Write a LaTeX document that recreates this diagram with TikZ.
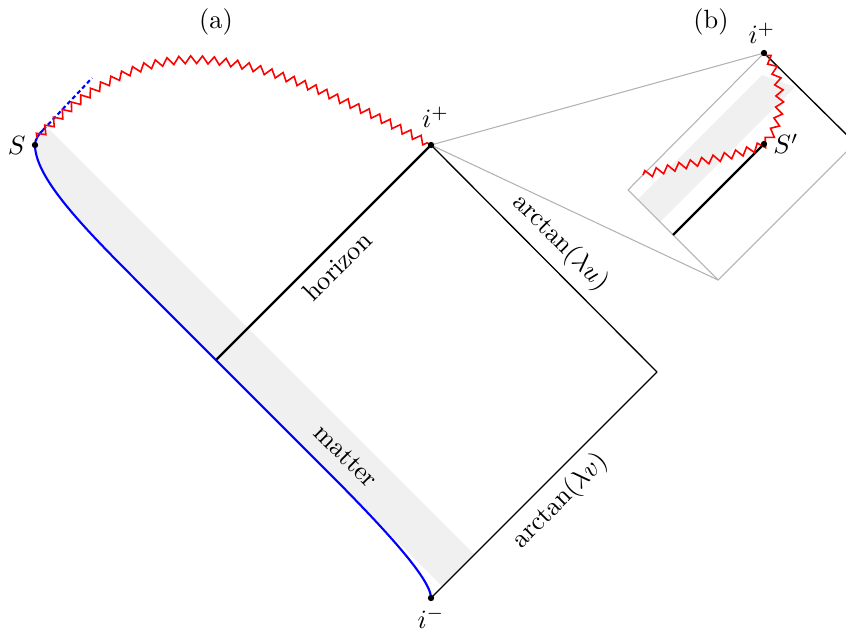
\documentclass[tikz,border=0pt]{standalone}
\usetikzlibrary{decorations.pathmorphing}

\begin{document}
\begin{tikzpicture}[
  x=0.0133cm, y=-0.0133cm,
  edge/.style={line width=0.5pt},
  hor/.style={line width=0.9pt},
  wall/.style={draw=blue,line width=0.8pt},
  sing/.style={draw=red,line width=0.6pt,decorate,
    decoration={zigzag,segment length=4.4pt,amplitude=1.45pt}},
  shell/.style={fill=black!6},
  zoomln/.style={draw=black!30,line width=0.4pt}
]
\useasboundingbox (0,0) rectangle (846,630);

% ---- corners ----
\coordinate (S)  at (35,145);
\coordinate (ip) at (431,145);
\coordinate (im) at (431,598);
\coordinate (rc) at (657,372);
\coordinate (hf) at (216,360);
\coordinate (A)  at (43,130);
\coordinate (dtip) at (92,78);
\coordinate (M)  at (150,294);
\coordinate (P0) at (320,464);
\coordinate (zs) at (37,138);

% ---- inset corners ----
\coordinate (jp) at (764,53);
\coordinate (Sp) at (764,144);
\coordinate (bL) at (628,190);
\coordinate (bB) at (718,280);
\coordinate (bR) at (855,143);
\coordinate (hq) at (673,235);
\coordinate (zq) at (643,175);

% ---- matter shell ----
\fill[shell] (50,130) -- (474.5,554.5) -- (442.5,586.5) -- (M)
  .. controls (90,234) and (35,180) .. (S)
  .. controls (35,139) and (39,134) .. (A) -- cycle;
\fill[shell] (637.5,199.5) -- (762,75) -- (795,87) -- (660,222) -- cycle;

% ---- zoom lines and inset frame ----
\draw[zoomln] (ip) -- (jp);
\draw[zoomln] (ip) -- (bB);
\draw[zoomln] (jp) -- (bL) -- (bB) -- (bR);
\draw[edge] (jp) -- (bR);

% ---- boundaries ----
\draw[edge] (ip) -- node[sloped,above] (ulbl) {$\arctan(\lambda u)$} (rc);
\draw[edge] (im) -- node[sloped,below] (vlbl) {$\arctan(\lambda v)$} (rc);
\draw[hor] (hf) -- node[sloped,below] (hlbl) {horizon} (ip);
\draw[hor] (Sp) -- (hq);

% ---- regular centre ----
\draw[wall,dash pattern=on 1.6pt off 1.1pt] (A) -- (dtip);
\draw[wall] (A) .. controls (39,134) and (35,139) .. (S)
  .. controls (35,180) and (90,234) .. (M) -- (P0)
  .. controls (380,524) and (431,578) .. (im);

% ---- singularity ----
\draw[sing] (zs) .. controls (147,28) and (231,37) .. (ip);
\draw[sing] (zq) .. controls (700,160) and (745,155) .. (Sp)
  .. controls (785,125) and (785,75) .. (jp);

% ---- dots and labels ----
\foreach \p in {S,ip,im,jp,Sp}
  \fill (\p) circle (1.2pt);

\node[left] (Slbl) at (S) {$S$};
\node[above=3pt,xshift=1.7pt] (iplbl) at (ip) {$i^+$};
\node[below] (imlbl) at (im) {$i^-$};
\node[above,xshift=-0.8pt] (jplbl) at (jp) {$i^+$};
\node[right] (Splbl) at (Sp) {$S'$};
\node[rotate=-45] (mlbl) at (346,456) {matter};
\node (alab) at (216,22) {(a)};
\node (blab) at (711,22) {(b)};

\end{tikzpicture}
\end{document}
